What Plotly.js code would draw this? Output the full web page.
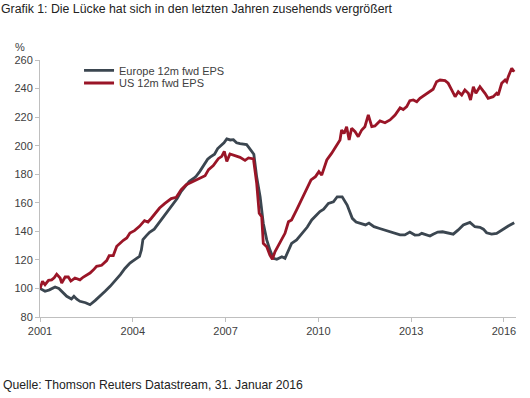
<!DOCTYPE html>
<html>
<head>
<meta charset="utf-8">
<script src="https://cdn.plot.ly/plotly-3.0.1.min.js"></script>
<style>html,body{margin:0;padding:0;background:#fff;}#chart{width:530px;height:398px;}</style>
</head>
<body>
<div id="chart"></div>
<script>
// Time in decimal years
const europeX = [2001.0,2001.081,2001.163,2001.305,2001.488,2001.61,2001.763,2001.864,2002.017,2002.098,2002.19,2002.291,2002.474,2002.617,2002.779,2002.942,2003.105,2003.267,2003.44,2003.598,2003.745,2003.908,2004.054,2004.217,2004.278,2004.328,2004.44,2004.542,2004.694,2004.806,2004.949,2005.081,2005.192,2005.294,2005.434,2005.566,2005.708,2005.83,2005.962,2006.047,2006.168,2006.338,2006.42,2006.501,2006.643,2006.745,2006.826,2006.948,2007.04,2007.152,2007.253,2007.355,2007.467,2007.579,2007.681,2007.762,2007.843,2007.914,2008.006,2008.118,2008.219,2008.331,2008.433,2008.545,2008.657,2008.748,2008.82,2008.921,2009.033,2009.134,2009.297,2009.511,2009.643,2009.785,2010.05,2010.172,2010.324,2010.487,2010.609,2010.77,2010.931,2011.097,2011.219,2011.361,2011.524,2011.636,2011.798,2011.981,2012.124,2012.286,2012.449,2012.642,2012.795,2012.957,2013.12,2013.252,2013.344,2013.507,2013.608,2013.71,2013.863,2014.015,2014.198,2014.361,2014.523,2014.686,2014.9,2015.061,2015.224,2015.337,2015.439,2015.601,2015.764,2015.927,2016.14,2016.333];
const europeEPS = [100,99,98,99,101,100,96.5,94.5,92.6,94.5,92.5,91,90,88.6,91.5,94.5,98,101.5,105.5,109.7,114,117.8,120,122.5,127,134.2,137,139.3,141.5,144.7,148.5,152.8,155.5,158.7,163,168,172,175,177,178.5,182,187.9,190.5,192,194,198,199.5,202,204.7,204,204.2,202,201.4,201,200.7,198.5,196.5,194,178,164,145.7,134,127,121.1,120.4,121.5,122.2,121.1,126,131.6,134,139.8,143,148,153.9,155.5,159.6,160.7,164.2,164.2,158.4,149.1,146.5,145.6,144.5,145.8,143.3,142,141,140,139,137.5,137.5,139.5,137.4,137.5,138.6,137.4,136.7,138,139.5,139.7,139,138,141,144.4,146.3,143.2,142.8,141.5,139,138,138.6,141,143.7,146];

const usX = [2001.0,2001.081,2001.163,2001.275,2001.376,2001.458,2001.539,2001.651,2001.702,2001.813,2001.915,2001.996,2002.129,2002.22,2002.291,2002.403,2002.525,2002.617,2002.729,2002.83,2002.993,2003.084,2003.156,2003.237,2003.369,2003.481,2003.593,2003.695,2003.806,2003.908,2004.054,2004.217,2004.379,2004.491,2004.593,2004.705,2004.866,2005.029,2005.151,2005.242,2005.405,2005.566,2005.728,2005.942,2006.156,2006.338,2006.45,2006.603,2006.765,2006.877,2006.958,2007.04,2007.141,2007.304,2007.467,2007.629,2007.741,2007.902,2008.006,2008.087,2008.168,2008.219,2008.331,2008.433,2008.514,2008.596,2008.707,2008.82,2008.921,2009.033,2009.134,2009.297,2009.459,2009.622,2009.763,2009.906,2010.017,2010.109,2010.273,2010.426,2010.588,2010.7,2010.751,2010.832,2010.914,2010.995,2011.076,2011.188,2011.29,2011.402,2011.504,2011.615,2011.727,2011.829,2011.992,2012.154,2012.317,2012.48,2012.642,2012.744,2012.856,2012.958,2013.069,2013.181,2013.283,2013.446,2013.608,2013.71,2013.822,2013.934,2014.096,2014.198,2014.31,2014.422,2014.523,2014.635,2014.737,2014.849,2014.92,2015.011,2015.093,2015.224,2015.388,2015.489,2015.652,2015.764,2015.815,2015.927,2016.038,2016.089,2016.14,2016.252,2016.333];
const usEPS = [100,105,102.6,105.7,106,107.5,110,107.3,103.8,108,108,105.2,107.3,106.5,106,108,109.5,110.8,113,115.5,116.2,118,119.5,123,123,129.5,132,133.7,135.3,138.8,140.5,143.5,147.5,146.5,149,151.7,156.3,159.4,161.5,162.9,163.8,169.2,172.7,175,177.4,179,183.2,186,190.9,192.5,196,189,194.2,193.2,191.8,189.7,191.4,190.7,173.6,152.6,150.2,131.6,129.2,123.4,120.4,125.7,130.4,135,138.6,146.7,148,155,162,170,176,178.3,181.8,179.4,190,194.6,200.4,204,211,208.6,213.3,204,212.2,209.8,206.3,211,213.3,221.5,213.3,213.8,217.3,216,218,221.5,226.5,225.3,227.3,231.5,232,230.8,233.2,235.5,237.8,239.5,244.8,246,245.5,243.7,239,234.3,237.8,235.5,239,236.7,232,241.3,236.7,241.3,236.7,233.2,234.3,236.7,235.5,243.7,246,244.8,248.3,254.2,251.8];

const seriesNames = ['Europe 12m fwd EPS','US 12m fwd EPS'];
const xTickVals = [2001,2004,2007,2010,2013,2016];
const yTickVals = [80,100,120,140,160,180,200,220,240,260];

const font = "Arial, 'Liberation Sans', sans-serif";
const axisCol = '#bfbfbf';
const textCol = '#404040';

const traces = [
  {x: europeX, y: europeEPS, name: seriesNames[0], type: 'scatter', mode: 'lines',
   line: {color: '#3b4650', width: 2.8}, legend: 'legend'},
  {x: usX, y: usEPS, name: seriesNames[1], type: 'scatter', mode: 'lines',
   line: {color: '#9a1527', width: 2.8}, legend: 'legend2'}
];

const legendCommon = {
  orientation: 'v', xanchor: 'left', yanchor: 'middle', bgcolor: 'rgba(0,0,0,0)',
  borderwidth: 0, font: {family: font, size: 11, color: textCol}, itemwidth: 30
};

const layout = {
  width: 530, height: 398,
  margin: {l: 40, r: 14, t: 60, b: 81, pad: 0},
  paper_bgcolor: '#ffffff', plot_bgcolor: '#ffffff',
  showlegend: true,
  title: {text: 'Grafik 1: Die Lücke hat sich in den letzten Jahren zusehends vergrößert',
    xref: 'container', yref: 'container', x: 0.002, xanchor: 'left', y: 0.977, yanchor: 'middle',
    font: {family: font, size: 12.3, color: '#222'}},
  xaxis: {
    range: [2001, 2016.39], tickvals: xTickVals, ticktext: xTickVals.map(String),
    showgrid: false, zeroline: false, showline: true, linecolor: axisCol, linewidth: 1,
    ticks: 'outside', ticklen: 4, tickcolor: axisCol, tickwidth: 1,
    tickfont: {family: font, size: 11, color: textCol}, fixedrange: true
  },
  yaxis: {
    range: [80, 260], tickvals: yTickVals, ticktext: yTickVals.map(String),
    showgrid: false, zeroline: false, showline: true, linecolor: axisCol, linewidth: 1,
    ticks: 'outside', ticklen: 4, tickcolor: axisCol, tickwidth: 1,
    tickfont: {family: font, size: 11, color: textCol}, fixedrange: true
  },
  legend: Object.assign({x: 0.082, y: 0.96}, legendCommon),
  legend2: Object.assign({x: 0.082, y: 0.9105}, legendCommon),
  annotations: [
    {text: '%', xref: 'paper', yref: 'paper', x: -0.042, y: 1.052, xanchor: 'center', yanchor: 'middle',
     showarrow: false, font: {family: font, size: 11, color: textCol}},
    {text: 'Quelle: Thomson Reuters Datastream, 31. Januar 2016', xref: 'paper', yref: 'paper',
     x: -0.082, y: -0.265, xanchor: 'left', yanchor: 'middle', showarrow: false,
     font: {family: font, size: 12.2, color: '#222'}}
  ]
};

Plotly.newPlot('chart', traces, layout, {displayModeBar: false, staticPlot: true});
</script>
</body>
</html>
